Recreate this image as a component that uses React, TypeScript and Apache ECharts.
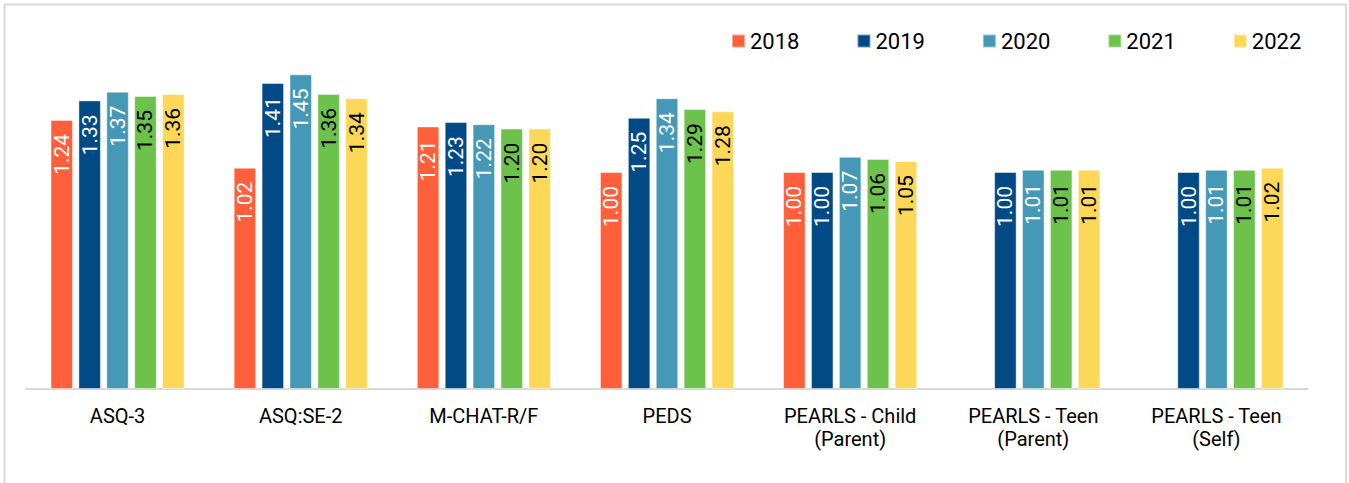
import React, { useEffect, useRef } from "react";
import * as echarts from "echarts";

const categories = [
  "ASQ-3",
  "ASQ:SE-2",
  "M-CHAT-R/F",
  "PEDS",
  "PEARLS - Child\n(Parent)",
  "PEARLS - Teen\n(Parent)",
  "PEARLS - Teen\n(Self)",
];
const years = ["2018", "2019", "2020", "2021", "2022"];
const v2018 = [1.24, 1.02, 1.21, 1.0, 1.0, null, null];
const v2019 = [1.33, 1.41, 1.23, 1.25, 1.0, 1.0, 1.0];
const v2020 = [1.37, 1.45, 1.22, 1.34, 1.07, 1.01, 1.01];
const v2021 = [1.35, 1.36, 1.2, 1.29, 1.06, 1.01, 1.01];
const v2022 = [1.36, 1.34, 1.2, 1.28, 1.05, 1.01, 1.02];
const seriesValues = [v2018, v2019, v2020, v2021, v2022];
const colors = ["#FF5F3B", "#024A86", "#4599B6", "#6CC24A", "#FDD757"];
const labelColors = ["#ffffff", "#ffffff", "#ffffff", "#000000", "#000000"];

export default function App() {
  const ref = useRef<HTMLDivElement>(null);
  useEffect(() => {
    if (!ref.current) return;
    const chart = echarts.init(ref.current, undefined, { renderer: "svg" });
    const font = "Roboto, 'Noto Sans', sans-serif";
    chart.setOption({
      animation: false,
      backgroundColor: "#ffffff",
      textStyle: { fontFamily: font },
      graphic: [
        {
          type: "rect",
          shape: { x: 4.5, y: 4.5, width: 1341.5, height: 520 },
          style: { fill: "none", stroke: "#d9d9d9", lineWidth: 2 },
          silent: true,
          z: -1,
        },
      ],
      legend: {
        left: 731,
        top: 30,
        padding: 0,
        itemWidth: 13,
        itemHeight: 13,
        itemGap: 57,
        icon: "rect",
        data: years,
        textStyle: { fontSize: 22, fontWeight: "normal", color: "#000000", fontFamily: font },
      },
      grid: { left: 26, right: 41, top: 41.8, bottom: 94, containLabel: false },
      xAxis: {
        type: "category",
        data: categories,
        axisLine: { show: true, lineStyle: { color: "#d9d9d9", width: 2 } },
        axisTick: { show: false },
        axisLabel: {
          color: "#000000",
          fontSize: 20,
          fontWeight: "normal",
          lineHeight: 23,
          margin: 15,
          fontFamily: font,
          interval: 0,
        },
      },
      yAxis: {
        type: "value",
        min: 0,
        max: 1.6,
        show: false,
        splitLine: { show: false },
      },
      series: years.map((y, i) => ({
        name: y,
        type: "bar",
        data: seriesValues[i],
        barWidth: 22.5,
        barGap: "24%",
        itemStyle: { color: colors[i], borderColor: "rgba(255,255,255,0.45)", borderWidth: 1 },
        label: {
          show: true,
          position: "insideTop",
          rotate: 90,
          align: "right",
          verticalAlign: "middle",
          distance: 14,
          color: labelColors[i],
          fontSize: 21,
          fontWeight: "normal",
          fontFamily: font,
          formatter: (p: any) => (p.value == null ? "" : Number(p.value).toFixed(2)),
        },
      })),
    });
    return () => chart.dispose();
  }, []);
  return (
    <div
      ref={ref}
      style={{ position: "fixed", left: 0, top: 0, width: 1349, height: 483 }}
    />
  );
}
